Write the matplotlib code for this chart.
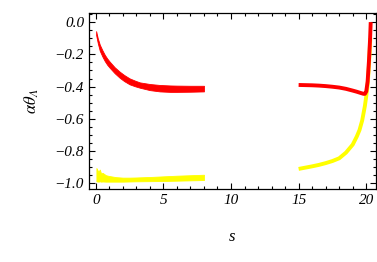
import matplotlib
matplotlib.use("Agg")
import matplotlib.pyplot as plt
from matplotlib.ticker import MultipleLocator, FuncFormatter

# banda roja (s pequeño)
s_rojo = [0.03, 0.15, 0.3, 0.5, 0.67, 0.85, 1.04, 1.4, 1.78, 2.1, 2.5, 2.9, 3.26, 4.0, 4.74, 5.5, 6.0, 7.0, 8.0]
rojo_sup = [-0.056, -0.10, -0.14, -0.176, -0.203, -0.226, -0.246, -0.28, -0.308, -0.328, -0.349, -0.363,
            -0.374, -0.384, -0.39, -0.393, -0.394, -0.395, -0.395]
rojo_inf = [-0.08, -0.13, -0.178, -0.215, -0.242, -0.265, -0.284, -0.317, -0.346, -0.366, -0.386, -0.398,
            -0.407, -0.422, -0.43, -0.433, -0.433, -0.432, -0.43]

# banda amarilla (s pequeño)
s_amar = [0.05, 0.2, 0.3, 0.4, 0.5, 0.75, 1.0, 1.5, 2.0, 2.5, 3.0, 4.0, 5.0, 6.0, 7.0, 8.0]
amar_sup = [-0.905, -0.93, -0.915, -0.94, -0.935, -0.95, -0.955, -0.962, -0.965, -0.965, -0.964,
            -0.961, -0.957, -0.953, -0.950, -0.947]
amar_inf = [-0.988, -0.99, -0.988, -0.99, -0.989, -0.99, -0.99, -0.99, -0.99, -0.989, -0.988,
            -0.987, -0.986, -0.984, -0.982, -0.98]

# curvas para s grande
s_rojo2 = [15, 15.5, 16, 16.5, 17, 17.5, 18, 18.5, 19, 19.3, 19.6, 19.8, 19.9, 20.0, 20.1, 20.2, 20.28, 20.33]
rojo2 = [-0.39, -0.391, -0.392, -0.394, -0.397, -0.401, -0.406, -0.414, -0.425, -0.432, -0.44,
         -0.445, -0.445, -0.43, -0.37, -0.24, -0.11, 0.0]
s_amar2 = [15, 15.5, 16, 16.5, 17, 17.5, 18, 18.5, 19, 19.3, 19.5, 19.7, 19.9, 20.0, 20.1, 20.2, 20.3]
amar2 = [-0.911, -0.903, -0.895, -0.886, -0.875, -0.862, -0.845, -0.81, -0.76, -0.71, -0.67,
         -0.61, -0.52, -0.46, -0.39, -0.27, -0.10]

plt.rcParams["font.family"] = ["Liberation Serif", "DejaVu Serif"]
plt.rcParams["font.style"] = "italic"
plt.rcParams["mathtext.fontset"] = "stix"

fig = plt.figure(figsize=(3.77, 2.62), dpi=100)
ax = fig.add_axes([0.236, 0.279, 0.7606, 0.671])

ax.fill_between(s_amar, amar_inf, amar_sup, color="#ffff00", lw=0.6, edgecolor="#ffff00")
ax.fill_between(s_rojo, rojo_inf, rojo_sup, color="#ff0000", lw=0.6, edgecolor="#ff0000")
ax.plot(s_amar2, amar2, color="#ffff00", lw=2.8, solid_capstyle="butt")
ax.plot(s_rojo2, rojo2, color="#ff0000", lw=2.8, solid_capstyle="butt")

ax.set_xlim(-0.5, 20.7)
ax.set_ylim(-1.035, 0.056)

ax.xaxis.set_major_locator(MultipleLocator(5))
ax.xaxis.set_minor_locator(MultipleLocator(1))
ax.yaxis.set_major_locator(MultipleLocator(0.2))
ax.yaxis.set_minor_locator(MultipleLocator(0.05))
ax.yaxis.set_major_formatter(FuncFormatter(lambda v, p: f"{v:.1f}".replace("-", "\u2212")))
ax.tick_params(which="both", direction="in", top=True, right=True, width=0.8)
ax.tick_params(which="major", length=4.5, labelsize=11)
ax.tick_params(which="minor", length=2.5)
for sp in ax.spines.values():
    sp.set_linewidth(0.9)

ax.set_xlabel("s", fontsize=12, labelpad=16)
ax.set_ylabel(r"$\alpha\theta_\Lambda$", fontsize=12, labelpad=10)

fig.savefig("out.png", dpi=100)
